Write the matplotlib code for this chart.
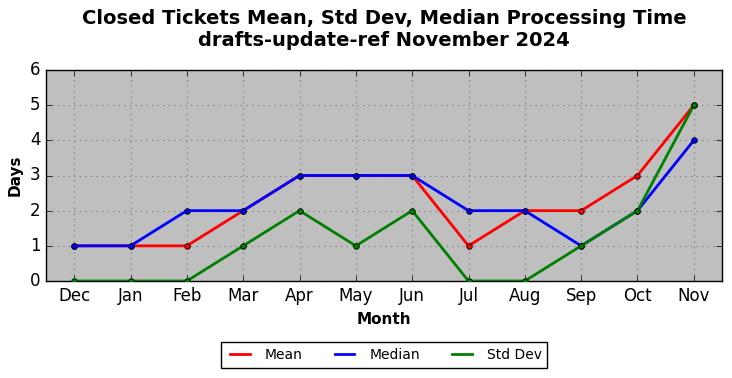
import matplotlib
matplotlib.use("Agg")
import matplotlib.pyplot as plt
from matplotlib.lines import Line2D

plt.style.use("classic")

months = ["Dec", "Jan", "Feb", "Mar", "Apr", "May", "Jun", "Jul", "Aug", "Sep", "Oct", "Nov"]
mean_vals = [1, 1, 1, 2, 3, 3, 3, 1, 2, 2, 3, 5]
median_vals = [1, 1, 2, 2, 3, 3, 3, 2, 2, 1, 2, 4]
std_vals = [0, 0, 0, 1, 2, 1, 2, 0, 0, 1, 2, 5]

series = [("Mean", mean_vals, "red"), ("Median", median_vals, "blue"), ("Std Dev", std_vals, "green")]

fig = plt.figure(figsize=(7.32, 3.78), dpi=100, facecolor="white")
ax = fig.add_axes([46/732, 1-281/378, (722-46)/732, (281-70)/378])
ax.set_facecolor("#bfbfbf")
x = list(range(len(months)))
handles = []
for name, vals, col in series:
    ax.plot(x, vals, color=col, linewidth=2, marker="o", markersize=4,
            markeredgecolor="black", markeredgewidth=0.6, zorder=3)
    handles.append(Line2D([], [], color=col, linewidth=2, label=name))

ax.set_xlim(-0.5, len(months) - 0.5)
ax.set_ylim(0, 6)
ax.set_xticks(x)
ax.set_xticklabels(months, fontsize=12)
ax.set_yticks(range(0, 7))
ax.tick_params(labelsize=12)
ax.grid(True, color="#808080", linestyle=":", linewidth=0.8)
ax.set_axisbelow(True)
ax.set_xlabel("Month", fontsize=11, fontweight="bold")
ax.set_ylabel("Days", fontsize=11, fontweight="bold")
fig.text(384/732, 1-30/378, "Closed Tickets Mean, Std Dev, Median Processing Time\ndrafts-update-ref November 2024",
         fontsize=14, fontweight="bold", ha="center", va="center", linespacing=1.2)
fig.legend(handles=handles, loc="center", bbox_to_anchor=(384/732, 1-355/378), ncol=3,
           fontsize=10, frameon=True, fancybox=False, edgecolor="black", handlelength=2,
           columnspacing=2)
fig.savefig("out.png", dpi=100, facecolor="white")
